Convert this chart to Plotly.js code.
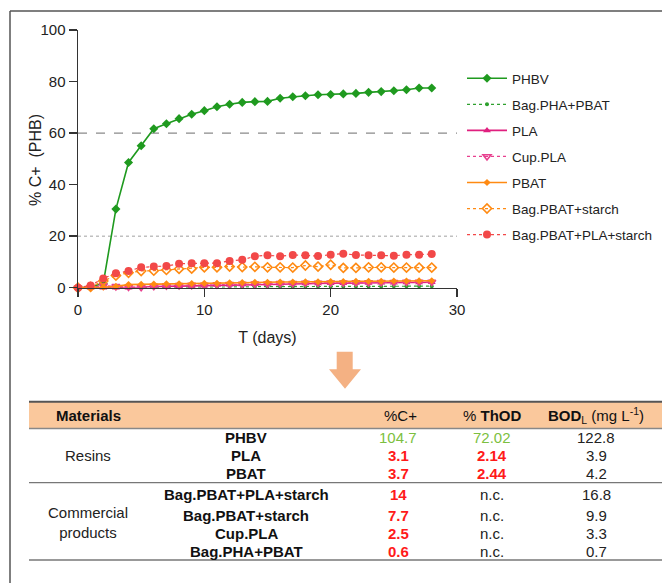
<!DOCTYPE html>
<html><head><meta charset="utf-8">
<script src="https://cdn.plot.ly/plotly-3.0.1.min.js"></script>
<style>html,body{margin:0;padding:0;background:#fff;}</style>
</head><body><div id="chart" style="width:662px;height:583px;"></div>
<script>
// ---------- chart data ----------
const days = [0,1,2,3,4,5,6,7,8,9,10,11,12,13,14,15,16,17,18,19,20,21,22,23,24,25,26,27,28];
const phbv = [0,0.3,1.7,30.5,48.6,55.1,61.7,63.6,65.6,67.3,68.7,70.2,71.2,71.9,72.2,72.3,73.5,74.1,74.5,74.9,75.0,75.2,75.4,75.8,76.1,76.4,76.8,77.5,77.5];
const bagPhaPbat = [0,0,0.3,0.1,0,0.1,0.1,0.2,0.2,0.2,0.3,0.3,0.3,0.3,0.4,0.4,0.4,0.4,0.4,0.5,0.5,0.5,0.5,0.5,0.5,0.6,0.6,0.6,0.6];
const pla = [0,0,0,0,0,0.2,0.4,0.5,0.6,0.7,0.8,1.0,1.1,1.2,1.3,1.4,1.5,1.5,1.6,1.6,1.7,1.7,1.8,1.8,1.9,1.9,2.0,2.0,2.1];
const cupPla = [0,0.2,0.8,0.5,0.3,0.2,0.6,0.8,0.9,1.0,1.0,1.2,1.3,1.4,1.5,1.5,1.7,1.7,1.8,1.8,1.9,1.9,2.0,2.0,2.1,2.1,2.2,2.2,2.2];
const pbat = [0,0,0.2,0.5,1.2,1.3,1.4,1.5,1.5,1.6,1.7,1.7,1.9,2.0,2.1,2.1,2.2,2.2,2.3,2.3,2.4,2.4,2.5,2.5,2.5,2.6,2.6,2.7,2.7];
const bagPbatStarch = [0,0.3,2.6,4.7,5.8,6.5,6.6,6.9,7.3,7.4,7.9,7.9,8.2,8.0,8.1,7.9,7.9,7.8,8.6,8.2,8.9,7.7,7.7,7.9,7.9,7.8,7.8,7.8,7.8];
const bagPbatPlaStarch = [0,0.9,3.6,5.6,6.5,7.9,8.2,8.4,9.3,9.5,9.5,9.5,10.4,10.8,12.2,12.6,12.2,12.7,12.6,12.3,12.8,13.2,12.7,12.6,12.6,12.4,12.8,12.8,13.1];
const seriesNames = ['PHBV','Bag.PHA+PBAT','PLA','Cup.PLA','PBAT','Bag.PBAT+starch','Bag.PBAT+PLA+starch'];
const xTicks = [0,10,20,30];
const yTicks = [0,20,40,60,80,100];

// ---------- table data ----------
const tableHeaders = ['Materials','%C+','% <b>ThOD</b>','<b>BOD</b><sub>L</sub> (mg L<sup>-1</sup>)'];
const materials = ['PHBV','PLA','PBAT','Bag.PBAT+PLA+starch','Bag.PBAT+starch','Cup.PLA','Bag.PHA+PBAT'];
const cPlus = ['104.7','3.1','3.7','14','7.7','2.5','0.6'];
const thod = ['72.02','2.14','2.44','n.c.','n.c.','n.c.','n.c.'];
const bodL = ['122.8','3.9','4.2','16.8','9.9','3.3','0.7'];
const groupLabels = ['Resins','Commercial<br>products'];

// ---------- helpers ----------
const W = 662, H = 583;
const PX = p => p / W;
const PY = p => 1 - p / H;
const FONT = 'Liberation Sans, Arial, sans-serif';

const styles = [
  {color:'#1f9a1f', dash:'solid', width:1.6, symbol:'diamond', size:7},
  {color:'#2ea02e', dash:'dot', width:1.2, symbol:'circle', size:4},
  {color:'#e0207f', dash:'solid', width:1.6, symbol:'triangle-up', size:7},
  {color:'#e8408f', dash:'dot', width:1.2, symbol:'triangle-down-open', size:7},
  {color:'#ff8a12', dash:'solid', width:1.6, symbol:'diamond', size:5.5},
  {color:'#ff8a12', dash:'dot', width:1.2, symbol:'diamond-open', size:7},
  {color:'#f24848', dash:'dot', width:1.2, symbol:'circle', size:8}
];
const seriesVals = [phbv,bagPhaPbat,pla,cupPla,pbat,bagPbatStarch,bagPbatPlaStarch];

const traces = seriesVals.map((v,i)=>({
  type:'scatter', mode:'lines+markers', x:days, y:v, name:seriesNames[i],
  legendgroup:'g'+i, cliponaxis:false,
  line:{color:styles[i].color, dash:styles[i].dash, width:styles[i].width},
  marker:{color:styles[i].color, symbol:styles[i].symbol, size:styles[i].size,
          line:{color:styles[i].color, width: styles[i].symbol.includes('open')?1.6:0}}
}));

const shapes = [
  // outer frame
  {type:'line', xref:'paper', yref:'paper', x0:PX(10), x1:PX(10), y0:PY(11), y1:-0.1, line:{color:'#555', width:1.5}},
  {type:'line', xref:'paper', yref:'paper', x0:PX(10), x1:1.1, y0:PY(11), y1:PY(11), line:{color:'#555', width:1.5}},
  // reference lines
  {type:'line', xref:'x', yref:'y', x0:0, x1:30, y0:60, y1:60, layer:'below', line:{color:'#8a8a8a', width:1.2, dash:'dash'}},
  {type:'line', xref:'x', yref:'y', x0:0, x1:30, y0:20, y1:20, layer:'below', line:{color:'#a0a0a0', width:1, dash:'dot'}},
  // arrow
  {type:'path', xref:'paper', yref:'paper', line:{width:0}, fillcolor:'#f4b183',
   path:`M ${PX(336.7)},${PY(351.7)} L ${PX(352.7)},${PY(351.7)} L ${PX(352.7)},${PY(369.3)} L ${PX(361)},${PY(369.3)} L ${PX(345)},${PY(388.7)} L ${PX(329)},${PY(369.3)} L ${PX(336.7)},${PY(369.3)} Z`},
  // header band
  {type:'rect', xref:'paper', yref:'paper', x0:PX(29), x1:1.05, y0:PY(428.3), y1:PY(401.7), line:{width:0}, fillcolor:'#fac89c', layer:'below'},
  {type:'line', xref:'paper', yref:'paper', x0:PX(29), x1:1.05, y0:PY(401.7), y1:PY(401.7), line:{color:'#555', width:2}},
  {type:'line', xref:'paper', yref:'paper', x0:PX(29), x1:1.05, y0:PY(428.5), y1:PY(428.5), line:{color:'#888', width:1.3}},
  {type:'line', xref:'paper', yref:'paper', x0:PX(29), x1:1.05, y0:PY(482.7), y1:PY(482.7), line:{color:'#777', width:1.3}},
  {type:'line', xref:'paper', yref:'paper', x0:PX(29), x1:1.05, y0:PY(560), y1:PY(560), line:{color:'#777', width:1.3}}
];

// ---------- annotations ----------
const ann = [];
// y-axis title
ann.push({xref:'paper', yref:'paper', x:PX(35), y:PY(160), xanchor:'center', yanchor:'middle', textangle:-90,
  showarrow:false, text:'% C+&nbsp; (PHB)', font:{family:FONT, size:16, color:'#222'}});

const headerX = [54, 400, 492, 596];
const colX = {name:246, c:398, t:492, b:596};
const rowY = [437.7, 455.7, 473.3, 494.3, 515.7, 533.3, 551.7];
tableHeaders.forEach((h,i)=>{
  ann.push({xref:'paper', yref:'paper', x:PX(headerX[i]), y:PY(415), xanchor: i===0?'left':'center', yanchor:'middle',
    text: i===0?'<b>'+h+'</b>':h, showarrow:false, font:{family:FONT, size:15, color:'#111'}});
});
const valColor = v => (v==='n.c.' ? '#222' : (parseFloat(v) > 50 ? '#7cbf40' : '#ff1a1a'));
const valText = v => (v==='n.c.' || parseFloat(v) > 50) ? v : '<b>'+v+'</b>';
materials.forEach((m,i)=>{
  const y = PY(rowY[i]);
  ann.push({xref:'paper', yref:'paper', x:PX(colX.name), y, xanchor:'center', yanchor:'middle', showarrow:false,
    text:'<b>'+m+'</b>', font:{family:FONT, size:15, color:'#111'}});
  ann.push({xref:'paper', yref:'paper', x:PX(colX.c), y, xanchor:'center', yanchor:'middle', showarrow:false,
    text:valText(cPlus[i]), font:{family:FONT, size:15, color:valColor(cPlus[i])}});
  ann.push({xref:'paper', yref:'paper', x:PX(colX.t), y, xanchor:'center', yanchor:'middle', showarrow:false,
    text:valText(thod[i]), font:{family:FONT, size:15, color:valColor(thod[i])}});
  ann.push({xref:'paper', yref:'paper', x:PX(colX.b), y, xanchor:'center', yanchor:'middle', showarrow:false,
    text:bodL[i], font:{family:FONT, size:15, color:'#222'}});
});
const groupY = [455.7, 522];
groupLabels.forEach((g,i)=>{
  ann.push({xref:'paper', yref:'paper', x:PX(88), y:PY(groupY[i]), xanchor:'center', yanchor:'middle', showarrow:false,
    text:g, font:{family:FONT, size:15, color:'#222'}});
});

const layout = {
  width:W, height:H, autosize:false,
  margin:{l:0,r:0,t:0,b:0},
  paper_bgcolor:'#fff', plot_bgcolor:'rgba(0,0,0,0)',
  font:{family:FONT, color:'#222'},
  showlegend:true,
  legend:{x:PX(462), y:PY(63), xanchor:'left', yanchor:'top', itemwidth:40,
    tracegroupgap:5.5, font:{family:FONT, size:13.5, color:'#222'}, bgcolor:'rgba(0,0,0,0)', borderwidth:0},
  xaxis:{domain:[PX(78), PX(457)], anchor:'y', range:[0,30], tickvals:xTicks, ticktext:xTicks.map(String),
    showline:true, linecolor:'#333', linewidth:1.5, ticks:'outside', ticklen:8, tickwidth:1.5, tickcolor:'#333',
    showgrid:false, zeroline:false, tickfont:{family:FONT, size:15, color:'#222'},
    title:{text:'T (days)', font:{family:FONT, size:16, color:'#222'}, standoff:14}},
  yaxis:{domain:[PY(287.7), PY(30)], anchor:'x', range:[0,100], tickvals:yTicks, ticktext:yTicks.map(String),
    showline:true, linecolor:'#333', linewidth:1.5, ticks:'outside', ticklen:8, tickwidth:1.5, tickcolor:'#333',
    showgrid:false, zeroline:false, tickfont:{family:FONT, size:15, color:'#222'}},
  shapes, annotations:ann
};

Plotly.newPlot('chart', traces, layout, {displayModeBar:false, staticPlot:true});
</script></body></html>
